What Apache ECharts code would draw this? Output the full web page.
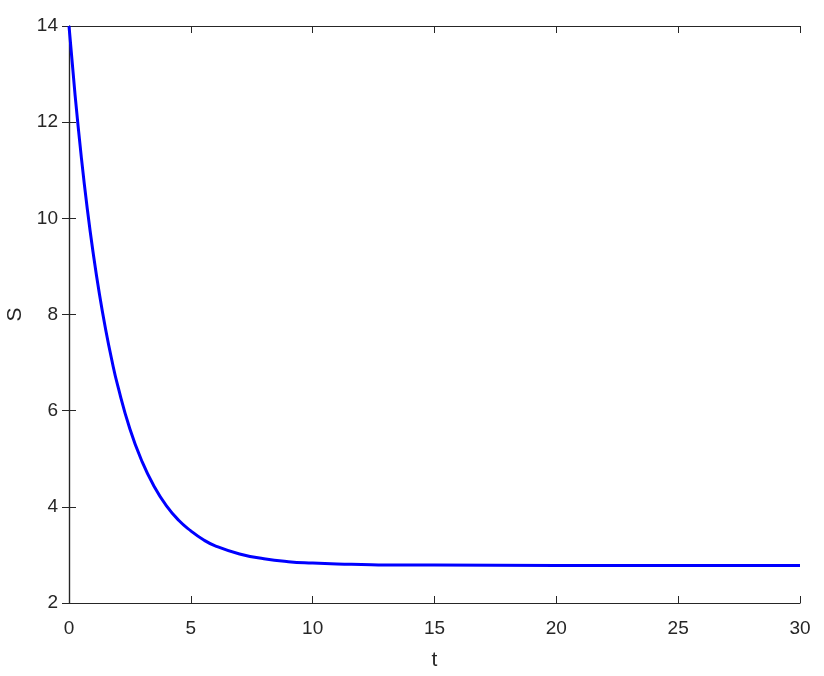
<!DOCTYPE html>
<html><head><meta charset="utf-8">
<script src="https://cdn.jsdelivr.net/npm/echarts@6/dist/echarts.min.js"></script>
<style>html,body{margin:0;padding:0;background:#fff}#c{width:824px;height:676px}</style>
</head><body><div id="c"></div>
<script>
const tValues = [0, 0.25, 0.5, 0.75, 1, 1.25, 1.5, 1.75, 2, 2.5, 3, 3.5, 4, 4.5, 5, 5.5, 6, 7, 8, 9, 10, 11, 12, 13, 15, 20, 25, 30];
const sValues = [14.0, 12.56, 11.30, 10.20, 9.25, 8.42, 7.70, 7.07, 6.52, 5.62, 4.94, 4.42, 4.02, 3.72, 3.50, 3.32, 3.19, 3.02, 2.92, 2.86, 2.83, 2.81, 2.80, 2.79, 2.79, 2.78, 2.78, 2.78];
const xTicks = [0, 5, 10, 15, 20, 25, 30];
const yTicks = [2, 4, 6, 8, 10, 12, 14];
const xName = 't';
const yName = 'S';

const axisCol = '#262626';
const font = 'Liberation Sans, Arial, sans-serif';
const chart = echarts.init(document.getElementById('c'));
const baseAxis = {
  axisLine: {show: true, lineStyle: {color: axisCol, width: 1.2}},
  axisTick: {show: true, inside: true, length: 7, lineStyle: {color: axisCol}},
  splitLine: {show: false},
};
chart.setOption({
  animation: false,
  backgroundColor: '#fff',
  grid: {left: 69, right: 24, top: 26, bottom: 73, containLabel: false, outerBoundsMode: 'none'},
  xAxis: [
    Object.assign({}, baseAxis, {type: 'value', min: xTicks[0], max: xTicks[xTicks.length-1], interval: 5,
      name: xName, nameLocation: 'middle', nameGap: 47,
      nameTextStyle: {color: axisCol, fontSize: 21, fontFamily: font},
      axisLabel: {color: axisCol, fontSize: 19, fontFamily: font, margin: 16}}),
    Object.assign({}, baseAxis, {type: 'value', position: 'top', min: 0, max: 30, interval: 5,
      axisLabel: {show: false}})
  ],
  yAxis: [
    Object.assign({}, baseAxis, {type: 'value', min: yTicks[0], max: yTicks[yTicks.length-1], interval: 2,
      name: yName, nameLocation: 'middle', nameGap: 38,
      nameTextStyle: {color: axisCol, fontSize: 21, fontFamily: font},
      axisLabel: {color: axisCol, fontSize: 19, fontFamily: font, margin: 11}}),
    Object.assign({}, baseAxis, {type: 'value', position: 'right', min: 2, max: 14, interval: 2,
      axisLabel: {show: false}})
  ],
  series: [{
    type: 'line', showSymbol: false, smooth: true,
    data: tValues.map((t, i) => [t, sValues[i]]),
    lineStyle: {color: '#0000ff', width: 3},
    itemStyle: {color: '#0000ff'}
  }]
});
</script></body></html>
